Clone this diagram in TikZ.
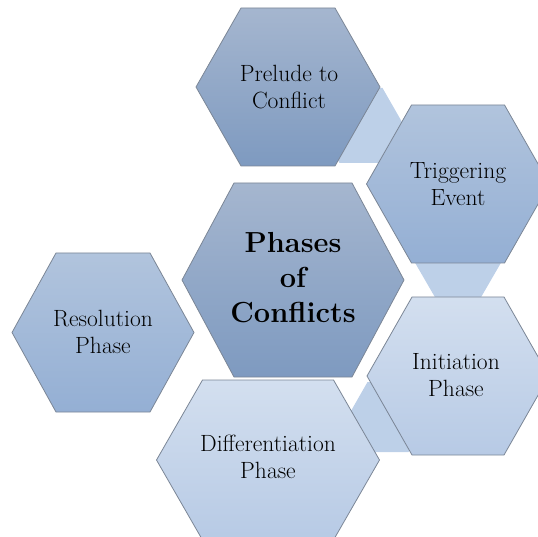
\documentclass[tikz,border=0pt]{standalone}
\usepackage{fontspec}
\usetikzlibrary{calc}

% colours of the cells (top / bottom of the vertical gradient)
\definecolor{darkTop}{HTML}{A5B6CF}
\definecolor{darkBot}{HTML}{7E9AC0}
\definecolor{midTop}{HTML}{B1C4DD}
\definecolor{midBot}{HTML}{94AFD4}
\definecolor{paleTop}{HTML}{D3DFEF}
\definecolor{paleBot}{HTML}{B7CAE5}
\definecolor{linkFill}{HTML}{BDD0E8}
\definecolor{cellEdge}{HTML}{7B8696}

\tikzset{
  cellline/.style={draw=cellEdge, line width=0.8pt, line join=miter},
  darkcell/.style={cellline, top color=darkTop, bottom color=darkBot},
  midcell/.style={cellline, top color=midTop, bottom color=midBot},
  palecell/.style={cellline, top color=paleTop, bottom color=paleBot},
  linkcell/.style={fill=linkFill},
  lbl/.style={align=center, inner sep=0pt, text=black,
              font=\fontsize{23.5}{27}\selectfont},
  title/.style={align=center, inner sep=0pt, text=black,
                font=\fontsize{29}{35}\selectfont\bfseries},
}

% flat-topped hexagon: name, centre x, centre y (downwards), half width,
% half height, corner inset, style
\newcommand\hexcell[7]{%
  \coordinate (#1) at (#2,-#3);
  \path[#7] ($(#1)+(-#4,0)$) -- ++(#6,#5) -- ++({2*#4-2*#6},0)
    -- ++(#6,-#5) -- ++(-#6,-#5) -- ++({-(2*#4-2*#6)},0) -- cycle;
}

\begin{document}
\begin{tikzpicture}[x=1pt,y=1pt]
  \useasboundingbox (0,0) rectangle (538,-537);
  \clip (0,0) rectangle (538,-537);

  % small linking hexagons behind the ring
  \hexcell{linkA}{361}{125.5}{43}{37.5}{21.5}{linkcell}
  \hexcell{linkB}{458}{261}{44}{38}{22}{linkcell}
  \hexcell{linkC}{388}{417}{40.5}{35}{20}{linkcell}

  % main cells
  \hexcell{cPrelude}{288}{87}{92}{79}{45}{darkcell}
  \hexcell{cTrigger}{458}{184}{91.5}{79}{45}{midcell}
  \hexcell{cCentre}{293}{280}{111}{97}{52}{darkcell}
  \hexcell{cResolve}{103}{332.5}{91}{79.5}{44}{midcell}
  \hexcell{cInit}{458}{376}{91}{79}{45}{palecell}
  \hexcell{cDiff}{268}{460}{111.5}{80}{46}{palecell}

  % labels
  \node[lbl]   (tPrelude) at (289,-87)  {Prelude to\\Conflict};
  \node[lbl]   (tTrigger) at (458,-184) {Triggering\\Event};
  \node[title] (tCentre)  at (293,-278) {Phases\\of\\Conflicts};
  \node[lbl]   (tResolve) at (103,-332) {Resolution\\Phase};
  \node[lbl]   (tInit)    at (456,-375) {Initiation\\Phase};
  \node[lbl]   (tDiff)    at (268,-457) {Differentiation\\Phase};
\end{tikzpicture}
\end{document}
